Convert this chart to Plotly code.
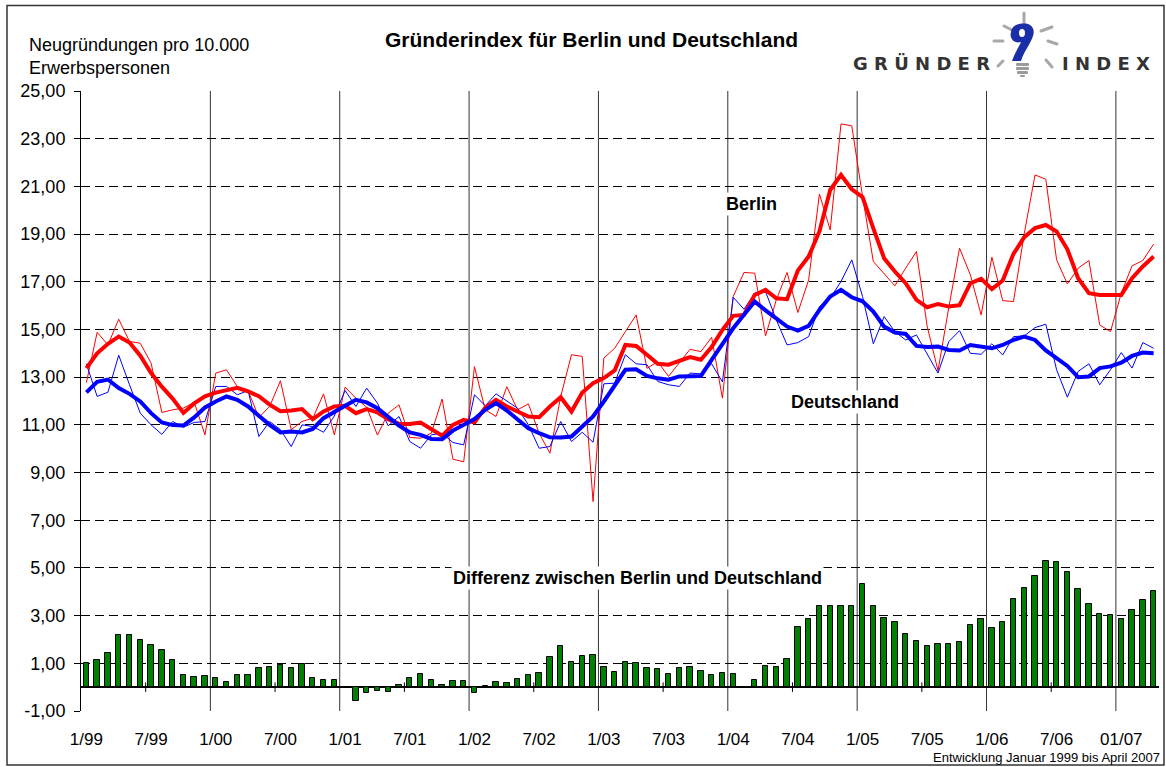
import base64
import plotly.graph_objects as go

# ---------------- data (Jan 1999 .. Apr 2007, monthly) ----------------
berlin_raw = [12.77, 14.88, 14.35, 15.43, 14.5, 14.42, 13.59, 11.52, 11.63, 11.7,
              11.95, 10.58, 13.17, 13.31, 12.6, 12.43, 11.31, 11.77, 12.85, 10.8,
              11.14, 11.28, 12.3, 10.58, 12.58, 12.12, 11.74, 10.57, 11.49, 11.84,
              10.47, 10.44, 10.65, 12.08, 9.56, 9.45, 13.44, 11.63, 11.35, 12.6,
              11.63, 11.88, 10.65, 9.81, 12.19, 13.94, 13.87, 7.78, 13.8, 14.21,
              14.91, 15.61, 13.37, 13.65, 13.03, 13.59, 14.17, 14.07, 14.67, 12.12,
              16.38, 17.39, 17.36, 14.73, 16.24, 17.39, 15.71, 17.08, 20.68, 19.17,
              23.62, 23.54, 20.58, 17.85, 17.36, 16.83, 17.57, 18.27, 15.12, 13.27,
              15.92, 18.41, 17.29, 15.61, 18.03, 16.21, 16.17, 19.02, 21.48, 21.3,
              17.92, 16.91, 17.57, 17.89, 15.19, 14.91, 16.52, 17.67, 17.89, 18.58]

berlin_avg = [13.38, 14.0, 14.4, 14.7, 14.45, 13.9, 13.17, 12.6, 12.1, 11.5,
              11.9, 12.2, 12.35, 12.45, 12.55, 12.4, 12.2, 11.85, 11.57, 11.6,
              11.66, 11.24, 11.56, 11.77, 11.8, 11.49, 11.66, 11.52, 11.24, 11.04,
              11.04, 11.1, 10.82, 10.54, 11.0, 11.21, 11.1, 11.72, 12.05, 11.77,
              11.56, 11.35, 11.32, 11.77, 12.16, 11.56, 12.36, 12.75, 12.96, 13.28,
              14.35, 14.31, 13.94, 13.56, 13.52, 13.7, 13.84, 13.73, 14.26, 14.98,
              15.57, 15.61, 16.45, 16.66, 16.31, 16.27, 17.47, 18.06, 19.11, 20.85,
              21.48, 20.88, 20.55, 19.24, 17.99, 17.43, 16.94, 16.24, 15.93, 16.07,
              15.96, 16.02, 16.94, 17.12, 16.69, 17.05, 18.17, 18.87, 19.25, 19.38,
              19.11, 18.36, 17.15, 16.52, 16.45, 16.45, 16.45, 17.15, 17.64, 18.06]

de_raw = [13.56, 12.19, 12.37, 13.92, 12.68, 11.49, 11.0, 10.6, 11.14, 10.9,
          11.1, 11.14, 12.61, 12.61, 12.26, 12.44, 10.51, 11.14, 10.8, 10.09,
          11.0, 10.93, 10.69, 11.37, 12.44, 11.77, 12.54, 11.91, 10.96, 11.35,
          10.3, 10.02, 10.58, 10.65, 10.26, 10.16, 12.26, 11.8, 12.3, 12.0,
          11.7, 11.0, 10.02, 10.09, 11.14, 10.3, 10.69, 10.27, 12.72, 12.75,
          13.94, 13.56, 13.52, 12.82, 12.68, 12.61, 13.17, 13.14, 13.56, 12.8,
          16.35, 15.85, 16.52, 16.59, 15.4, 14.35, 14.45, 14.7, 15.96, 16.31,
          17.01, 17.92, 16.38, 14.4, 15.54, 14.91, 14.56, 14.77, 14.0, 13.17,
          14.49, 14.95, 14.0, 13.96, 14.4, 13.93, 14.7, 14.73, 15.08, 15.22,
          13.31, 12.16, 13.24, 13.56, 12.68, 13.31, 14.03, 13.38, 14.45, 14.21]

de_avg = [12.36, 12.8, 12.9, 12.54, 12.3, 11.98, 11.49, 11.1, 10.99, 10.97,
          11.31, 11.73, 11.98, 12.19, 12.05, 11.77, 11.38, 11.0, 10.68, 10.72,
          10.68, 10.83, 11.28, 11.52, 11.8, 12.05, 11.94, 11.7, 11.35, 10.97,
          10.68, 10.58, 10.41, 10.4, 10.76, 11.0, 11.24, 11.63, 11.91, 11.6,
          11.21, 10.86, 10.65, 10.48, 10.47, 10.51, 10.93, 11.35, 11.98, 12.68,
          13.31, 13.33, 13.05, 12.95, 12.89, 13.03, 13.05, 13.05, 13.72, 14.42,
          15.05, 15.62, 16.17, 15.8, 15.47, 15.12, 14.95, 15.15, 15.82, 16.38,
          16.66, 16.35, 16.18, 15.75, 15.12, 14.87, 14.81, 14.31, 14.26, 14.28,
          14.14, 14.12, 14.35, 14.26, 14.21, 14.35, 14.56, 14.7, 14.56, 14.12,
          13.8, 13.47, 13.0, 13.03, 13.38, 13.45, 13.61, 13.89, 14.03, 14.0]

differenz = [1.0, 1.14, 1.45, 2.19, 2.18, 1.98, 1.77, 1.56, 1.14, 0.5,
             0.43, 0.47, 0.39, 0.22, 0.5, 0.52, 0.79, 0.85, 0.91, 0.82,
             0.99, 0.38, 0.28, 0.29, 0.02, -0.6, -0.26, -0.18, -0.21, 0.1,
             0.39, 0.54, 0.32, 0.11, 0.26, 0.26, -0.25, 0.03, 0.22, 0.17,
             0.35, 0.5, 0.6, 1.27, 1.72, 1.05, 1.32, 1.35, 0.84, 0.63,
             1.07, 1.03, 0.8, 0.77, 0.56, 0.8, 0.85, 0.67, 0.5, 0.59,
             0.57, -0.04, 0.29, 0.89, 0.84, 1.17, 2.52, 2.86, 3.4, 3.4,
             3.4, 3.4, 4.34, 3.42, 2.89, 2.72, 2.25, 1.92, 1.73, 1.83,
             1.8, 1.91, 2.59, 2.85, 2.47, 2.73, 3.68, 4.17, 4.66, 5.3,
             5.26, 4.84, 4.13, 3.5, 3.05, 3.04, 2.85, 3.22, 3.65, 4.03]

x_tick_months = [0, 6, 12, 18, 24, 30, 36, 42, 48, 54, 60, 66, 72, 78, 84, 90, 96]
x_tick_labels = ["1/99", "7/99", "1/00", "7/00", "1/01", "7/01", "1/02", "7/02", "1/03",
                 "7/03", "1/04", "7/04", "1/05", "7/05", "1/06", "7/06", "01/07"]
y_tick_values = [-1, 1, 3, 5, 7, 9, 11, 13, 15, 17, 19, 21, 23, 25]
y_tick_labels = ["-1,00", "1,00", "3,00", "5,00", "7,00", "9,00", "11,00", "13,00",
                 "15,00", "17,00", "19,00", "21,00", "23,00", "25,00"]

# ---------------- geometry helpers ----------------
W, H = 1166, 767
L, R, T, B = 81, 7, 91, 56
PW, PH = W - L - R, H - T - B


def px(x):
    return (x - L) / PW


def py(y):
    return (H - B - y) / PH


FONT = "Liberation Sans, Arial, sans-serif"
months = list(range(len(berlin_raw)))

fig = go.Figure()
fig.add_bar(x=months, y=differenz, width=0.5,
            marker=dict(color="#008000", line=dict(color="black", width=1)))
fig.add_scatter(x=months, y=berlin_raw, mode="lines", line=dict(color="#ff0000", width=1))
fig.add_scatter(x=months, y=de_raw, mode="lines", line=dict(color="#0000ff", width=1))
fig.add_scatter(x=months, y=berlin_avg, mode="lines", line=dict(color="#ff0000", width=4))
fig.add_scatter(x=months, y=de_avg, mode="lines", line=dict(color="#0000ff", width=4))

shapes = []
# year separators
for k in range(12, len(months), 12):
    shapes.append(dict(type="line", xref="x", yref="y", x0=k - 0.5, x1=k - 0.5, y0=-1, y1=25,
                       line=dict(color="#333333", width=1), layer="below"))
# half-year tick marks on the zero line
for k in range(6, len(months), 12):
    shapes.append(dict(type="line", xref="x", yref="y", x0=k - 0.5, x1=k - 0.5, y0=-0.2, y1=0.2,
                       line=dict(color="black", width=1)))
# outer frame
shapes.append(dict(type="rect", xref="paper", yref="paper", x0=px(7), x1=px(1164),
                   y0=py(765), y1=py(5.5), line=dict(color="#333333", width=1.5)))

annotations = [
    dict(text="<b>Gründerindex für Berlin und Deutschland</b>", x=px(591), y=py(40),
         font=dict(size=21, color="black", family=FONT)),
    dict(text="Neugründungen pro 10.000<br>Erwerbspersonen", x=px(27), y=py(56), xanchor="left",
         align="left", font=dict(size=18, color="black", family=FONT)),
    dict(text="<b>Berlin</b>", x=px(751), y=py(204), bgcolor="white",
         font=dict(size=18, color="black", family=FONT)),
    dict(text="<b>Deutschland</b>", x=px(845), y=py(402), bgcolor="white",
         font=dict(size=18, color="black", family=FONT)),
    dict(text="<b>Differenz zwischen Berlin und Deutschland</b>", x=px(637), y=py(578),
         bgcolor="white", font=dict(size=18, color="black", family=FONT)),
    dict(text="Entwicklung Januar 1999 bis April 2007", x=px(1161), y=py(757), xanchor="right",
         borderpad=0, font=dict(size=13, color="black", family=FONT)),
    dict(text="<b>G R Ü N D E R</b>", x=px(921), y=py(63),
         font=dict(size=18, color="#333333", family="DejaVu Sans, sans-serif")),
    dict(text="<b>I N D E X</b>", x=px(1106), y=py(63),
         font=dict(size=18, color="#333333", family="DejaVu Sans, sans-serif")),
]
for a in annotations:
    a.setdefault("xref", "paper")
    a.setdefault("yref", "paper")
    a.setdefault("xanchor", "center")
    a.setdefault("yanchor", "middle")
    a.setdefault("showarrow", False)
    a.setdefault("borderpad", 1)

bulb_svg = """<svg xmlns='http://www.w3.org/2000/svg' width='70' height='70' viewBox='0 0 70 70'>
<g stroke='#a8a8a8' stroke-width='3' stroke-linecap='round'>
<line x1='34' y1='5' x2='34' y2='14'/>
<line x1='14' y1='18' x2='22' y2='22'/>
<line x1='62' y1='19' x2='51' y2='23'/>
<line x1='4' y1='33' x2='13' y2='33'/>
<line x1='58' y1='33' x2='67' y2='36'/>
<line x1='8' y1='58' x2='13' y2='53'/>
<line x1='56' y1='52' x2='62' y2='59'/>
</g>
<path d='M29 16 C39 13 46 19 43 28 C40 37 34 43 31 53 L22 53 C25 44 29 39 31 34 C25 36 19 31 21 24 C22 19 25 17 29 16 Z' fill='#1a2ea8'/>
<ellipse cx='32' cy='25' rx='3' ry='4' fill='white'/>
<g fill='#9a9a9a'>
<rect x='26' y='55' width='13' height='3' rx='1'/>
<rect x='26' y='59' width='13' height='3' rx='1'/>
<rect x='27' y='63' width='11' height='3' rx='1'/>
<rect x='30' y='67' width='5' height='2' rx='1'/>
</g>
</svg>"""
bulb_uri = "data:image/svg+xml;base64," + base64.b64encode(bulb_svg.encode()).decode()

fig.update_layout(
    width=W, height=H, autosize=False,
    margin=dict(l=L, r=R, t=T, b=B, pad=0),
    paper_bgcolor="white", plot_bgcolor="white",
    showlegend=False, bargap=0,
    font=dict(family=FONT, color="black"),
    shapes=shapes, annotations=annotations,
    images=[dict(source=bulb_uri, xref="paper", yref="paper", x=px(990), y=py(8),
                 sizex=70 / PW, sizey=70 / PH, xanchor="left", yanchor="top",
                 sizing="stretch", layer="above")],
    xaxis=dict(range=[-0.5, len(months) - 0.5], showgrid=False, zeroline=False,
               showline=False, tickvals=x_tick_months, ticktext=x_tick_labels,
               ticks="", tickfont=dict(size=17, color="black", family=FONT),
               ticklabelstandoff=16, fixedrange=True),
    yaxis=dict(range=[-1, 25], tickvals=y_tick_values, ticktext=y_tick_labels,
               showgrid=True, gridcolor="black", gridwidth=1, griddash="9px,5px",
               zeroline=True, zerolinecolor="black", zerolinewidth=1.5,
               showline=True, linecolor="black", linewidth=1,
               ticks="outside", ticklen=6, tickcolor="black",
               ticklabelstandoff=5,
               tickfont=dict(size=18, color="black", family=FONT), fixedrange=True),
)

fig.write_html("out.html", config={"displayModeBar": False},
               post_script="document.body.style.margin='0px';")
